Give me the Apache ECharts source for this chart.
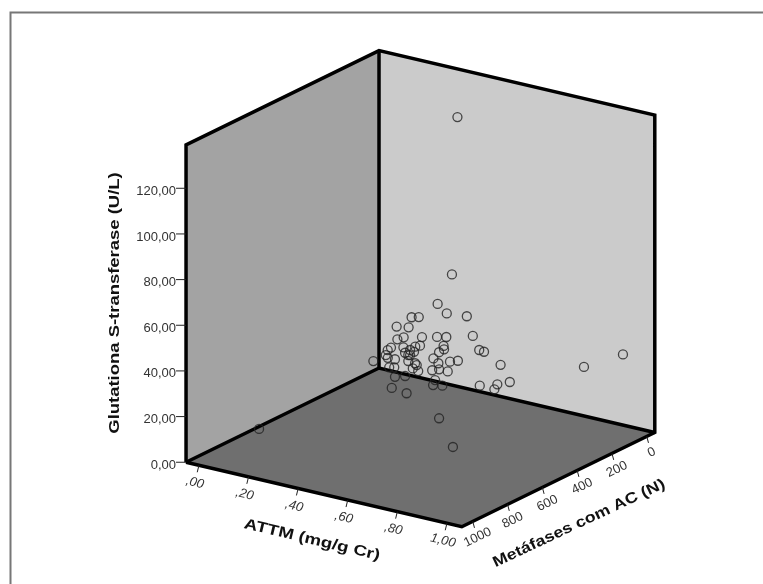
<!DOCTYPE html>
<html>
<head>
<meta charset="utf-8">
<title>Glutationa S-transferase x ATTM x Metáfases</title>
<script src="https://cdn.jsdelivr.net/npm/echarts@6/dist/echarts.min.js"></script>
<style>
  html, body { margin: 0; padding: 0; background: #fff; }
  #chart { width: 763px; height: 584px; }
</style>
</head>
<body>
<div id="chart"></div>
<script>
// ATTM (mg/g Cr)
const attmValues = [
  .357, .464, .615, .252, .351, .332, .240, .569, .335, .220, .364, .495, .392,
  .239, .296, .219, .356, .407, .381, .453, .665, .544, .218, .366, .246, .332,
  .503, .156, .255, .379, .340, .168, .379, .266, .477, .579, .360, .681, .302,
  .182, .327, .419, .335, .433, .538, .185, .296, .487, .172, .302, .479, .376,
  .597, .738, .648, .656, .520, .413, .246, .507, .555, .947, .999, .667, .020
]
// Metáfases com AC (N)
const metafasesValues = [
  200, 300, 400, 200, 300, 400, 200, 300, 400, 200, 300, 400, 200,
  300, 400, 200, 300, 400, 200, 300, 400, 200, 300, 400, 200, 300,
  400, 200, 300, 400, 200, 300, 400, 200, 300, 400, 200, 300, 400,
  200, 300, 400, 200, 300, 400, 200, 300, 400, 200, 300, 400, 200,
  300, 400, 200, 300, 424, 400, 200, 300, 400, 200, 50, 554, 746
]
// Glutationa S-transferase (U/L)
const glutationaValues = [
  47.6, 49.9, 56.2, 39.1, 45.4, 44.5, 34.4, 42.7, 39.0, 29.5, 37.0, 44.1, 34.0,
  29.2, 33.3, 25.1, 33.0, 37.6, 29.8, 33.9, 42.7, 31.4, 25.4, 33.9, 24.6, 29.7,
  37.6, 18.9, 24.5, 33.2, 23.3, 21.5, 30.6, 19.3, 29.1, 35.8, 21.7, 32.9, 25.9,
  15.4, 22.3, 27.2, 18.0, 24.6, 30.1, 11.3, 18.2, 25.0, 6.1, 10.8, 22.6, 12.3,
  21.6, 29.5, 20.8, 21.5, 10.0, 29.7, 22.4, 137.0, 73.0, 35.0, 36.2, 6.0, 4.6
]

const attmTicks = [0, .2, .4, .6, .8, 1]
const attmTickLabels = [',00', ',20', ',40', ',60', ',80', '1,00']
const metafasesTicks = [0, 200, 400, 600, 800, 1000]
const metafasesTickLabels = ['0', '200', '400', '600', '800', '1000']
const glutationaTicks = [0, 20, 40, 60, 80, 100, 120]
const glutationaTickLabels = ['0,00', '20,00', '40,00', '60,00', '80,00', '100,00', '120,00']

// extent of the box along each variable
const attmRange = [-0.052, 1.06]
const metafasesRange = [-46, 1063]
const glutationaRange = [0, 139]

const fontName = '"Liberation Sans", Arial, sans-serif'

// oblique projection of the box onto the page, in pixels
function project(attm, metafases, glutationa) {
  return [
    383.9 + 248 * attm - 0.174 * metafases,
    374.9 + 58 * attm + 0.085 * metafases - 2.283 * glutationa
  ]
}

const [aMin, aMax] = attmRange
const [mMin, mMax] = metafasesRange
const [gMin, gMax] = glutationaRange

const walls = [
  { color: '#a3a3a3', corners: [[aMin, mMax, gMin], [aMin, mMax, gMax], [aMin, mMin, gMax], [aMin, mMin, gMin]] },
  { color: '#cbcbcb', corners: [[aMin, mMin, gMin], [aMin, mMin, gMax], [aMax, mMin, gMax], [aMax, mMin, gMin]] },
  { color: '#6f6f6f', corners: [[aMin, mMax, gMin], [aMin, mMin, gMin], [aMax, mMin, gMin], [aMax, mMax, gMin]] }
]

const edges = [
  [[aMin, mMax, gMin], [aMin, mMax, gMax], [aMin, mMin, gMax], [aMax, mMin, gMax], [aMax, mMin, gMin], [aMax, mMax, gMin], [aMin, mMax, gMin]],
  [[aMin, mMin, gMax], [aMin, mMin, gMin]],
  [[aMin, mMax, gMin], [aMin, mMin, gMin], [aMax, mMin, gMin]]
]

function buildTicks() {
  const list = []
  attmTicks.forEach((v, i) => {
    const p = project(v, mMax, gMin)
    list.push({ p, dx: -1.7, dy: 7, lx: -4, ly: 17.5, text: attmTickLabels[i], rotate: -13.3, style: 'italic', align: 'center' })
  })
  metafasesTicks.forEach((v, i) => {
    const p = project(aMax, v, gMin)
    list.push({ p, dx: 1.7, dy: 6.5, lx: 5, ly: 16, text: metafasesTickLabels[i], rotate: 26, style: 'normal', align: 'center' })
  })
  glutationaTicks.forEach((v, i) => {
    const p = project(aMin, mMax, v)
    list.push({ p, dx: -10, dy: 0, lx: -10, ly: 3, text: glutationaTickLabels[i], rotate: 0, style: 'normal', align: 'right' })
  })
  return list
}

const axisTitles = [
  { text: 'ATTM (mg/g Cr)', at: [312, 540], rotate: -13.3, stretch: 1.25 },
  { text: 'Metáfases com AC (N)', at: [579, 523.5], rotate: 25.2, stretch: 1.19 },
  { text: 'Glutationa S-transferase (U/L)', at: [115, 303], rotate: 90, stretch: 1.23 }
]

const chartInstance = echarts.init(document.getElementById('chart'))

function toRad(deg) {
  return deg * Math.PI / 180
}

const initOption = {
  animation: false,
  backgroundColor: '#fff',
  grid: { left: 0, right: 0, top: 0, bottom: 0 },
  xAxis: { type: 'value', min: 0, max: 763, show: false },
  yAxis: { type: 'value', min: 0, max: 584, inverse: true, show: false },
  // chart frame
  graphic: [
    {
      type: 'polyline',
      silent: true,
      shape: { points: [[10.5, 584], [10.5, 12.5], [763, 12.5]] },
      style: { stroke: '#777', lineWidth: 2, fill: null }
    }
  ],
  series: [
    {
      type: 'custom',
      silent: true,
      z: 1,
      coordinateSystem: 'cartesian2d',
      data: walls.map((w, i) => [i]),
      renderItem(params, api) {
        const wall = walls[api.value(0)]
        return {
          type: 'polygon',
          shape: { points: wall.corners.map((c) => api.coord(project(c[0], c[1], c[2]))) },
          style: { fill: wall.color }
        }
      }
    },
    {
      type: 'custom',
      silent: true,
      z: 2,
      coordinateSystem: 'cartesian2d',
      data: edges.map((e, i) => [i]),
      renderItem(params, api) {
        const edge = edges[api.value(0)]
        return {
          type: 'polyline',
          shape: { points: edge.map((c) => api.coord(project(c[0], c[1], c[2]))) },
          style: { stroke: '#000', lineWidth: 3.5, fill: null, lineJoin: 'miter' }
        }
      }
    },
    {
      type: 'scatter',
      z: 3,
      symbol: 'circle',
      symbolSize: 9,
      itemStyle: { color: 'rgba(0,0,0,0)', borderColor: '#222', borderWidth: 1.3 },
      data: attmValues.map((a, i) => project(a, metafasesValues[i], glutationaValues[i]))
    },
    {
      // axis ticks and tick labels
      type: 'custom',
      silent: true,
      z: 2,
      coordinateSystem: 'cartesian2d',
      data: buildTicks().map((t, i) => [i]),
      renderItem(params, api) {
        const tick = buildTicks()[api.value(0)]
        const start = api.coord(tick.p)
        const end = api.coord([tick.p[0] + tick.dx, tick.p[1] + tick.dy])
        const at = api.coord([tick.p[0] + tick.lx, tick.p[1] + tick.ly])
        return {
          type: 'group',
          children: [
            {
              type: 'line',
              shape: { x1: start[0], y1: start[1], x2: end[0], y2: end[1] },
              style: { stroke: '#222', lineWidth: 1 }
            },
            {
              type: 'text',
              x: at[0],
              y: at[1],
              rotation: toRad(tick.rotate),
              style: {
                text: tick.text,
                fontFamily: fontName,
                fontSize: 13,
                fontStyle: tick.style,
                fill: '#333',
                align: tick.align,
                verticalAlign: 'middle'
              }
            }
          ]
        }
      }
    },
    {
      // axis titles
      type: 'custom',
      silent: true,
      z: 2,
      coordinateSystem: 'cartesian2d',
      data: axisTitles.map((t, i) => [i]),
      renderItem(params, api) {
        const title = axisTitles[api.value(0)]
        const at = api.coord(title.at)
        return {
          type: 'text',
          x: at[0],
          y: at[1],
          rotation: toRad(title.rotate),
          scaleX: title.stretch,
          style: {
            text: title.text,
            fontFamily: fontName,
            fontSize: 15,
            fontWeight: 'bold',
            fill: '#111',
            align: 'center',
            verticalAlign: 'middle'
          }
        }
      }
    }
  ]
}
chartInstance.setOption(initOption)
</script>
</body>
</html>
